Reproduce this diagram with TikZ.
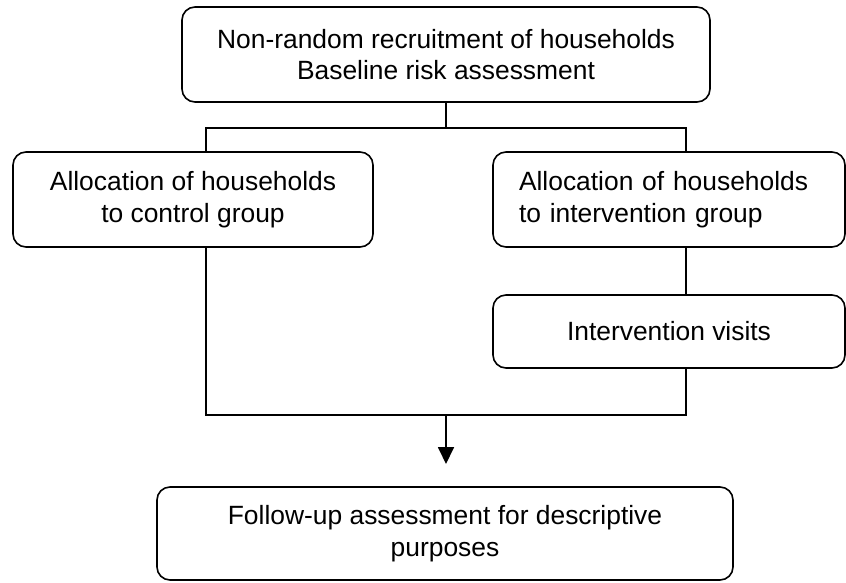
\documentclass[tikz,border=0pt]{standalone}
\usepackage{fontspec}
\setmainfont{Liberation Sans}
\usetikzlibrary{arrows.meta}
\begin{document}
\begin{tikzpicture}[x=1pt,y=-1pt,
  box/.style={draw, line width=1.6pt, rounded corners=13pt, inner sep=0pt,
    font=\fontsize{26.4}{31.5}\selectfont, align=center},
  conn/.style={line width=1.8pt},
  arr/.style={line width=1.8pt, -{Triangle[width=16pt,length=17pt]}}]
\useasboundingbox (0,0) rectangle (846,582);
\node[box, minimum width=528pt, minimum height=95pt] (top) at (446,54.5)
  {Non-random recruitment of households\\Baseline risk assessment};
\node[box, minimum width=360pt, minimum height=95pt] (left) at (193,199.5)
  {Allocation of households\\to control group};
\node[box, minimum height=95pt, text width=300pt, inner xsep=26pt, align=left] (right) at (669,199.5)
  {Allocation of households\\to intervention group};
\node[box, minimum width=352pt, minimum height=73pt] (visits) at (669,331.5)
  {Intervention visits};
\node[box, minimum width=576pt, minimum height=93pt] (bottom) at (445,533.5)
  {Follow-up assessment for descriptive\\purposes};
\coordinate (j1) at (446,128);
\coordinate (jl) at (206,128);
\coordinate (jr) at (686,128);
\coordinate (bl) at (206,415);
\coordinate (br) at (686,415);
\coordinate (bm) at (446,415);
\coordinate (tip) at (446,464);
\draw[conn] (top.south -| j1) -- (j1);
\draw[conn] (jl |- left.north) -- (jl) -- (jr) -- (jr |- right.north);
\draw[conn] (bl |- left.south) -- (bl) -- (br) -- (br |- visits.south);
\draw[conn] (br |- right.south) -- (br |- visits.north);
\draw[arr] (bm) -- (tip);
\end{tikzpicture}
\end{document}
